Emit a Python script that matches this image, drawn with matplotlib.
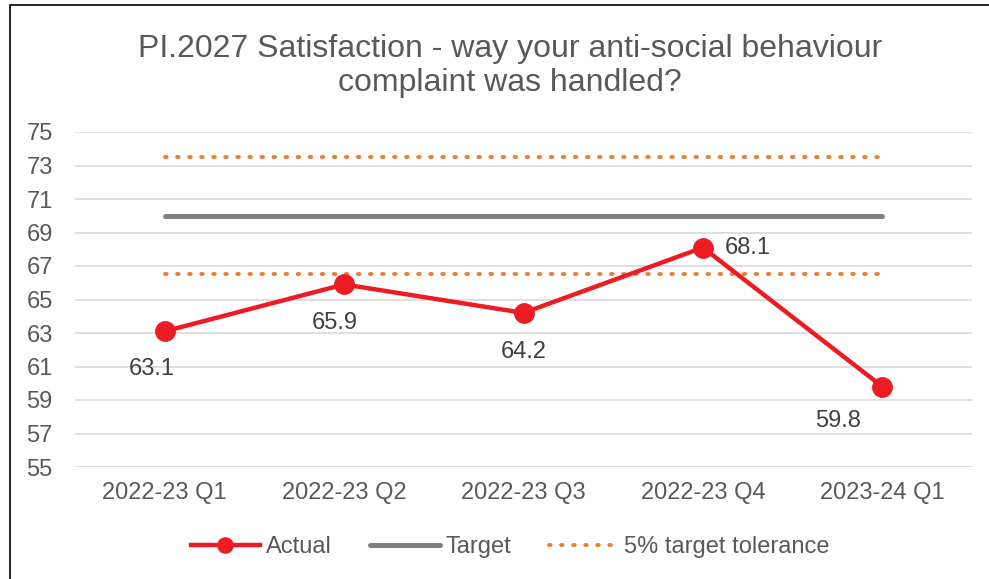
import matplotlib
matplotlib.use("Agg")
import matplotlib.pyplot as plt
from matplotlib.patches import Rectangle
from matplotlib.lines import Line2D

plt.rcParams['font.family'] = ['Liberation Sans', 'DejaVu Sans']

categories = ["2022-23 Q1", "2022-23 Q2", "2022-23 Q3", "2022-23 Q4", "2023-24 Q1"]
actual = [63.1, 65.9, 64.2, 68.1, 59.8]
target = [70, 70, 70, 70, 70]
tol_upper = [73.5, 73.5, 73.5, 73.5, 73.5]
tol_lower = [66.5, 66.5, 66.5, 66.5, 66.5]
yticks = [55, 57, 59, 61, 63, 65, 67, 69, 71, 73, 75]
title = "PI.2027 Satisfaction - way your anti-social behaviour\ncomplaint was handled?"

TXT = "#595959"
RED = "#ED1C24"
GRAY = "#808080"
ORANGE = "#ED7D31"
DOT = (0, (0.4, 2.7))

fig = plt.figure(figsize=(9.89, 5.79), dpi=100)
ax = fig.add_axes([75/989, 1-467/579, (972-75)/989, (467-132)/579])

x = list(range(len(categories)))
ax.plot(x, tol_upper, color=ORANGE, lw=2.8, linestyle=DOT, dash_capstyle='round', zorder=2)
ax.plot(x, tol_lower, color=ORANGE, lw=2.8, linestyle=DOT, dash_capstyle='round', zorder=2)
ax.plot(x, target, color=GRAY, lw=3.6, solid_capstyle='round', zorder=3)
ax.plot(x, actual, color=RED, lw=3.2, marker='o', markersize=14, zorder=4)

offsets = [(-9, -27), (-6.5, -28), (0, -28), (32, 0), (-32, -25)]
for xi, v, off in zip(x, actual, offsets):
    ax.annotate(f"{v:.1f}", (xi, v), xytext=off, textcoords='offset points',
                ha='center', va='center', fontsize=17, color="#404040")

ax.set_xlim(-0.5, len(categories) - 0.5)
ax.set_ylim(55, 75)
ax.set_yticks(yticks)
ax.set_xticks(x)
ax.set_xticklabels(categories)
ax.tick_params(axis='both', length=0, labelsize=17, labelcolor=TXT)
ax.tick_params(axis='x', pad=11)
ax.tick_params(axis='y', pad=16)
ax.grid(axis='y', color="#D9D9D9", lw=1.2)
ax.set_axisbelow(True)
for s in ax.spines.values():
    s.set_visible(False)

fig.text(0.516, 1-66/579, title, ha='center', va='center', fontsize=23, color=TXT, linespacing=1.15)

handles = [
    Line2D([], [], color=RED, lw=3.2, marker='o', markersize=11),
    Line2D([], [], color=GRAY, lw=3.6, solid_capstyle='round'),
    Line2D([], [], color=ORANGE, lw=2.8, linestyle=DOT, dash_capstyle='round'),
]
fig.legend(handles, ["Actual", "Target", "5% target tolerance"], loc='center',
           bbox_to_anchor=(0.516, 1-547/579), ncol=3, frameon=False, fontsize=17,
           labelcolor=TXT, handlelength=2.95, handletextpad=0.25, columnspacing=1.6)

fig.patches.append(Rectangle((10/989, -0.05), 1.2, 0.05 + 1-5/579, transform=fig.transFigure,
                             fill=False, edgecolor="#000000", lw=1.2, zorder=10))

fig.savefig("out.png", dpi=100)
